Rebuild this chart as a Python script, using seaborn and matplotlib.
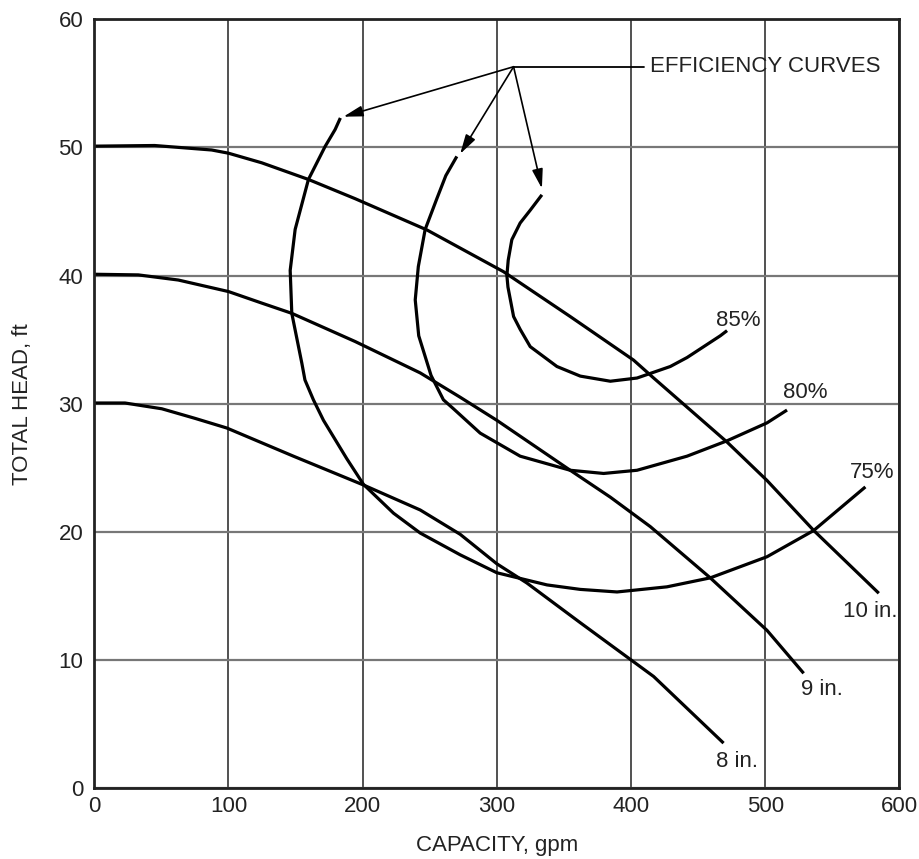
import matplotlib
matplotlib.use("Agg")
import matplotlib.pyplot as plt
import numpy as np
import pandas as pd
import seaborn as sns

# ---------------- data ----------------
# impeller head-capacity curves
imp10_x = [0, 45, 87.5, 100, 124.8, 159.6, 194.4, 247.9, 305, 354.7, 401.9, 416.9, 471.6, 501.4, 536.2, 584.7]
imp10_y = [50.1, 50.15, 49.8, 49.55, 48.8, 47.5, 46.0, 43.56, 40.3, 36.8, 33.4, 32.0, 27.0, 24.0, 20.1, 15.2]

imp9_x = [0, 32.8, 62.6, 100, 124.8, 147.2, 194.4, 242.9, 272.7, 300, 354.7, 384.6, 414.4, 459.1, 501.4, 528.7]
imp9_y = [40.1, 40.05, 39.65, 38.75, 37.85, 37.05, 34.85, 32.4, 30.5, 28.7, 24.8, 22.7, 20.4, 16.4, 12.3, 8.95]

imp8_x = [0, 22.9, 50.3, 75.1, 98.7, 148.4, 200.6, 242.9, 272.7, 300, 322.4, 362.2, 416.9, 469]
imp8_y = [30.05, 30.05, 29.6, 28.85, 28.1, 25.9, 23.65, 21.7, 19.8, 17.5, 16.0, 12.9, 8.7, 3.5]

# efficiency curves (traced from the arrow end)
eff75_x = [183.4, 179.5, 172, 159.6, 149.7, 146, 147.2, 154.7, 157, 163.3, 170.8, 188.2, 200.6, 223,
           242.9, 272.7, 300, 337.4, 362.2, 389.6, 426.8, 459.1, 501.4, 536.2, 574.7]
eff75_y = [52.3, 51.4, 50.07, 47.5, 43.6, 40.4, 37.05, 33.15, 31.85, 30.3, 28.7, 25.7, 23.7, 21.45,
           19.9, 18.2, 16.8, 15.85, 15.5, 15.3, 15.7, 16.4, 18.05, 20.1, 23.5]

eff80_x = [270.2, 262, 255.3, 246.6, 241.5, 239.2, 241.8, 251, 260.2, 267.7, 287.6, 317.4, 354.7,
           379.6, 404.5, 441.8, 471.6, 501.4, 516.3]
eff80_y = [49.3, 47.8, 46.0, 43.6, 40.7, 38.1, 35.3, 32.2, 30.3, 29.6, 27.7, 25.9, 24.8,
           24.55, 24.8, 25.9, 27.1, 28.5, 29.5]

eff85_x = [333.6, 324.9, 317.4, 311.2, 308.5, 307.5, 308.3, 312.5, 317.4, 324.9, 344.8,
           362.2, 384.6, 404.5, 429.3, 441.8, 466.6, 471.6]
eff85_y = [46.3, 45.1, 44.1, 42.8, 41.2, 40.0, 39.1, 36.8, 35.8, 34.45, 32.9,
           32.15, 31.75, 32.0, 32.9, 33.6, 35.3, 35.7]

curve_names = ["10 in.", "9 in.", "8 in.", "75%", "80%", "85%"]
curve_x = [imp10_x, imp9_x, imp8_x, eff75_x, eff80_x, eff85_x]
curve_y = [imp10_y, imp9_y, imp8_y, eff75_y, eff80_y, eff85_y]

# curve labels
label_text = ["85%", "80%", "75%", "10 in.", "9 in.", "8 in."]
label_x = [480, 530, 580, 578.5, 542.4, 479]
label_y = [36.5, 30.9, 24.6, 13.8, 7.65, 2.05]

# annotation "EFFICIENCY CURVES"
hub = (312.5, 56.3)
leader_end_x = 409.4
note_x = 414.4
arrow_tips = [(185.7, 52.4), (272.7, 49.5), (333.6, 46.8)]

x_ticks = [0, 100, 200, 300, 400, 500, 600]
y_ticks = [0, 10, 20, 30, 40, 50, 60]

# ---------------- build table ----------------
rows = []
for name, xs, ys in zip(curve_names, curve_x, curve_y):
    for i, (a, b) in enumerate(zip(xs, ys)):
        rows.append({"curve": name, "order": i, "capacity": a, "head": b})
df = pd.DataFrame(rows)

# ---------------- plot ----------------
sns.set_theme(style="white")
plt.rcParams["font.family"] = ["Liberation Sans", "DejaVu Sans"]
FS = 16

fig = plt.figure(figsize=(9.19, 8.59), dpi=100)
ax = fig.add_axes([0.1026, 0.0827, 0.8760, 0.8948])

sns.lineplot(data=df, x="capacity", y="head", units="curve", estimator=None,
             sort=False, color="black", lw=2.3, ax=ax, legend=False,
             solid_joinstyle="round", solid_capstyle="butt")

ax.set_xlim(0, 600)
ax.set_ylim(0, 60)
ax.set_xticks(x_ticks)
ax.set_yticks(y_ticks)
ax.tick_params(axis="both", length=0, labelsize=FS, colors="#222222")
ax.tick_params(axis="x", pad=6)
ax.tick_params(axis="y", pad=8)

ax.grid(True)
ax.xaxis.grid(True, color="#222222", lw=1.1)
ax.yaxis.grid(True, color="#777777", lw=1.6)
ax.set_axisbelow(True)
for s in ax.spines.values():
    s.set_color("#222222")
    s.set_linewidth(2.0)

ax.set_xlabel("CAPACITY, gpm", fontsize=FS, color="#222222", labelpad=13)
ax.set_ylabel("TOTAL HEAD, ft", fontsize=FS, color="#222222", labelpad=18)

for t, lx, ly in zip(label_text, label_x, label_y):
    ax.text(lx, ly, t, fontsize=FS, ha="center", va="center", color="#222222")

# leader for efficiency curves
ax.plot([hub[0], leader_end_x], [hub[1], hub[1]], color="black", lw=1.3)
ax.text(note_x, hub[1], "EFFICIENCY CURVES", fontsize=FS, ha="left", va="center", color="#222222")
for tip in arrow_tips:
    ax.annotate("", xy=tip, xytext=hub,
                arrowprops=dict(arrowstyle="-|>,head_length=0.9,head_width=0.25",
                                color="black", lw=1.2, mutation_scale=13,
                                shrinkA=0, shrinkB=0))

fig.savefig("out.png", dpi=100)
